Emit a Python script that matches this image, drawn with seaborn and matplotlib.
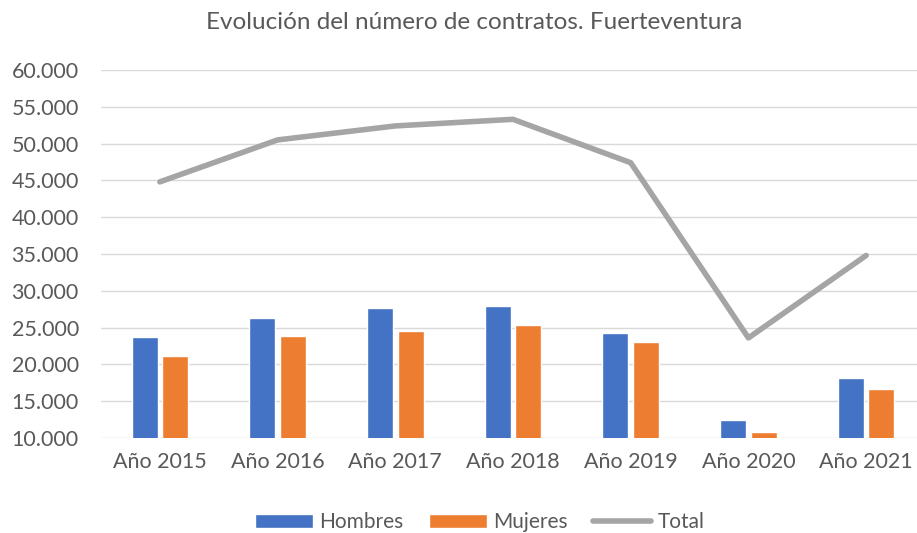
import seaborn as sns
import matplotlib.pyplot as plt
import pandas as pd
from matplotlib.ticker import FuncFormatter

years = ["Año 2015", "Año 2016", "Año 2017", "Año 2018", "Año 2019", "Año 2020", "Año 2021"]
hombres = [23700, 26300, 27600, 27900, 24200, 12500, 18100]
mujeres = [21100, 23900, 24600, 25300, 23000, 10800, 16600]
total = [44800, 50500, 52400, 53300, 47400, 23600, 34800]

sns.set_style("white")
plt.rcParams["font.family"] = ["Lato", "DejaVu Sans"]
text_color = "#595959"

df = pd.DataFrame({
    "year": years * 2,
    "value": hombres + mujeres,
    "sexo": ["Hombres"] * len(years) + ["Mujeres"] * len(years),
})

fig = plt.figure(figsize=(9.17, 5.33), dpi=100)
ax = fig.add_axes([101 / 917, 1 - 438 / 533, 824 / 917, 368 / 533])

sns.barplot(data=df, x="year", y="value", hue="sexo", order=years,
            palette=["#4472c4", "#ed7d31"], width=0.52, gap=0.15,
            saturation=1, ax=ax, zorder=2)
sns.pointplot(x=years, y=total, order=years, color="#a5a5a5", markers="",
              linewidth=4, errorbar=None, label="Total", ax=ax, zorder=3)

ax.set_ylim(10000, 60000)
ax.set_yticks(range(10000, 60001, 5000))
ax.yaxis.set_major_formatter(FuncFormatter(lambda v, p: f"{int(v):,}".replace(",", ".")))
ax.set_xlim(-0.5, 6.5)
ax.grid(axis="y", color="#d9d9d9", linewidth=1, zorder=0)
ax.set_axisbelow(True)
for s in ax.spines.values():
    s.set_visible(False)
ax.tick_params(axis="both", length=0, labelsize=15.5, colors=text_color)
ax.tick_params(axis="y", pad=16)
ax.tick_params(axis="x", pad=10)
ax.set_xlabel("")
ax.set_ylabel("")

handles, labels = ax.get_legend_handles_labels()
ax.get_legend().remove()
fig.legend(handles, labels, loc="center", bbox_to_anchor=(0.523, 0.02), ncol=3,
           frameon=False, fontsize=15, labelcolor=text_color, handlelength=2.8,
           handletextpad=0.3, columnspacing=1.2)

fig.text(0.517, 1 - 22 / 533, "Evolución del número de contratos. Fuerteventura",
         ha="center", va="center", fontsize=17.5, color=text_color)

fig.savefig("out.png", dpi=100)
